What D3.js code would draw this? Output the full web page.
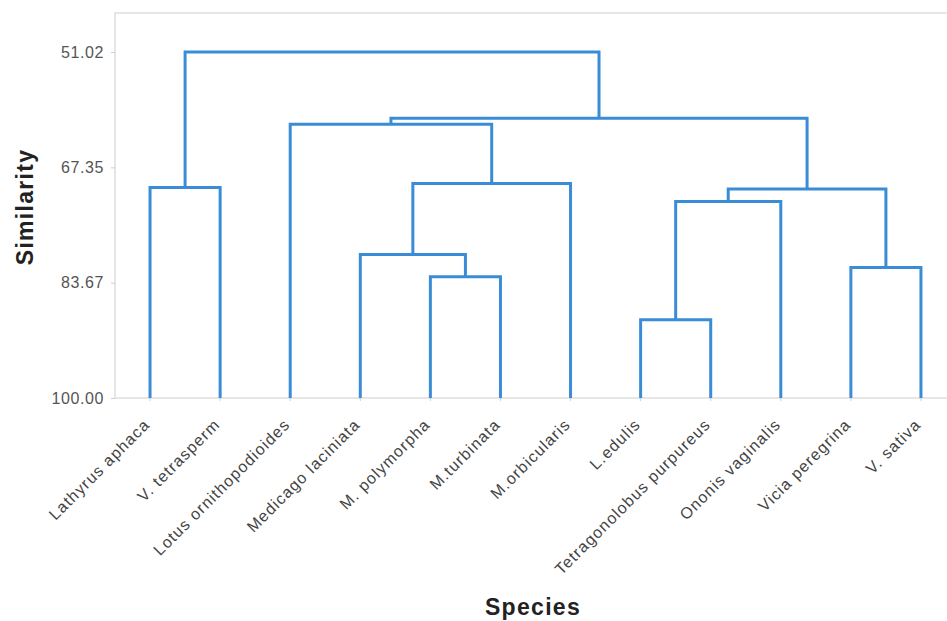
<!DOCTYPE html>
<html>
<head>
<meta charset="utf-8">
<script src="https://cdn.jsdelivr.net/npm/d3@7"></script>
<style>
  body { margin: 0; background: #fff; }
  text { font-family: "Liberation Sans", Arial, sans-serif; }
</style>
</head>
<body>
<div id="chart"></div>
<script>
var species = ['Lathyrus aphaca', 'V. tetrasperm', 'Lotus ornithopodioides', 'Medicago laciniata',
  'M. polymorpha', 'M.turbinata', 'M.orbicularis', 'L.edulis', 'Tetragonolobus purpureus',
  'Ononis vaginalis', 'Vicia peregrina', 'V. sativa']

// merges in build order: left id, right id, similarity (ids >= 12 are earlier merges)
var mergeLeft = [7, 4, 3, 12, 14, 10, 15, 2, 19, 0, 21]
var mergeRight = [8, 5, 13, 9, 6, 11, 17, 16, 18, 1, 20]
var mergeSim = [88.92, 82.82, 79.70, 72.17, 69.62, 81.54, 70.40, 61.24, 60.39, 70.19, 51.02]

var yTicks = [51.02, 67.35, 83.67, 100.00]

var width = 947, height = 621
var margin = { top: 13, left: 115, bottom: 223, right: -9 }

var svg = d3.select('#chart').append('svg').attr('width', width).attr('height', height)

var x = d3.scaleBand().domain(species).range([margin.left, width - margin.right])
var y = d3.scaleLinear().domain([45.5, 100]).range([margin.top, height - margin.bottom])

// frame
svg.append('rect')
  .attr('x', margin.left).attr('y', margin.top)
  .attr('width', width - margin.right - margin.left).attr('height', height - margin.bottom - margin.top)
  .style('fill', 'none').style('stroke', '#e6e6e6').style('stroke-width', 2)

var nodes = species.map(function(s) { return { x: x(s) + x.bandwidth() / 2, sim: 100 } })
var links = []
mergeLeft.forEach(function(l, i) {
  var a = nodes[l], b = nodes[mergeRight[i]]
  nodes.push({ x: (a.x + b.x) / 2, sim: mergeSim[i] })
  links.push({ a: a, b: b, sim: mergeSim[i] })
})

svg.append('g').selectAll('path')
  .data(links)
  .enter()
  .append('path')
  .attr('d', function(d) {
    return 'M' + d.a.x + ',' + y(d.a.sim) + 'V' + y(d.sim) + 'H' + d.b.x + 'V' + y(d.b.sim)
  })
  .style('fill', 'none')
  .style('stroke', '#3a8cd7')
  .style('stroke-width', 3)

// y axis
var yAxis = svg.append('g')
  .attr('transform', 'translate(' + margin.left + ',0)')
  .call(d3.axisLeft(y).tickValues(yTicks).tickFormat(d3.format('.2f')).tickSize(4).tickPadding(7))
yAxis.select('.domain').remove()
yAxis.selectAll('line').style('stroke', '#cfcfcf')
yAxis.selectAll('text').style('font-size', '16px').style('letter-spacing', '0.6px').style('fill', '#555')

// x labels
var xAxis = svg.append('g')
  .attr('transform', 'translate(0,' + (height - margin.bottom) + ')')
  .call(d3.axisBottom(x).tickSize(3).tickPadding(4))
xAxis.select('.domain').remove()
xAxis.selectAll('line').style('stroke', '#cfcfcf')
xAxis.selectAll('text')
  .style('font-size', '16px').style('letter-spacing', '1.1px').style('fill', '#444')
  .style('text-anchor', 'end')
  .attr('transform', 'translate(-3,8) rotate(-45)')
  .attr('dx', '-0.7em').attr('dy', '0.6em')

svg.append('text')
  .attr('x', 533).attr('y', 615)
  .style('text-anchor', 'middle').style('font-size', '23px').style('letter-spacing', '1.3px')
  .style('font-weight', 'bold').style('fill', '#222')
  .text('Species')

svg.append('text')
  .attr('transform', 'translate(33,207) rotate(-90)')
  .style('text-anchor', 'middle').style('font-size', '23px').style('letter-spacing', '1.3px')
  .style('font-weight', 'bold').style('fill', '#222')
  .text('Similarity')
</script>
</body>
</html>
